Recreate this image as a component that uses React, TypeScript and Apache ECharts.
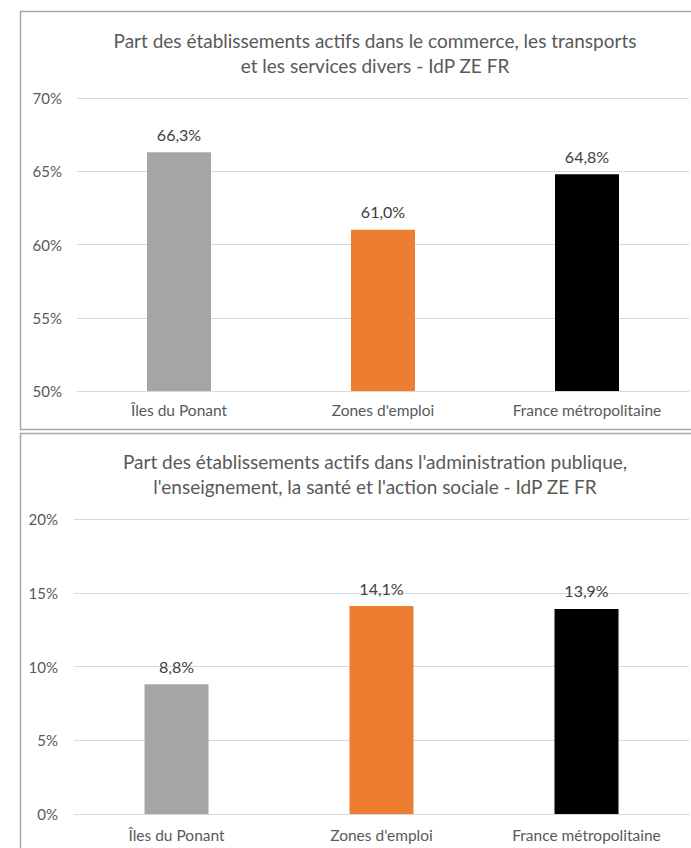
import React, { useEffect, useRef } from "react";
import * as echarts from "echarts";

const categories = ["Îles du Ponant", "Zones d'emploi", "France métropolitaine"];
const barColors = ["#a5a5a5", "#ed7d31", "#000000"];

const title1 = "Part des établissements actifs dans le commerce, les transports\net les services divers - IdP ZE FR";
const values1 = [66.3, 61.0, 64.8];
const yMin1 = 50;
const yMax1 = 70;

const title2 = "Part des établissements actifs dans l'administration publique,\nl'enseignement, la santé et l'action sociale - IdP ZE FR";
const values2 = [8.8, 14.1, 13.9];
const yMin2 = 0;
const yMax2 = 20;

const yInterval = 5;

const FONT = "Lato, sans-serif";

const fmtPct = (v: number) => v.toFixed(1).replace(".", ",") + "%";

export default function App() {
  const ref = useRef<HTMLDivElement>(null);
  useEffect(() => {
    if (!ref.current) return;
    const chart = echarts.init(ref.current, undefined, { renderer: "svg" });
    const mkData = (vals: number[]) =>
      vals.map((v, i) => ({ value: v, itemStyle: { color: barColors[i] } }));
    const xAxisCommon = {
      type: "category" as const,
      data: categories,
      axisTick: { show: false },
      axisLine: { lineStyle: { color: "#d9d9d9", width: 1 } },
      axisLabel: { color: "#595959", fontSize: 15.5, fontFamily: FONT },
    };
    const yAxisCommon = {
      type: "value" as const,
      interval: yInterval,
      axisLine: { show: false },
      axisTick: { show: false },
      splitLine: { lineStyle: { color: "#d9d9d9", width: 1 } },
      axisLabel: {
        color: "#595959",
        fontSize: 15,
        fontFamily: FONT,
        formatter: (v: number) => v + "%",
      },
    };
    const titleStyle = {
      color: "#595959",
      fontSize: 19,
      fontWeight: "normal" as const,
      fontFamily: FONT,
      lineHeight: 25,
    };
    const labelStyle = {
      show: true,
      position: "top" as const,
      distance: 10,
      color: "#404040",
      fontSize: 16,
      fontFamily: FONT,
      formatter: (p: any) => fmtPct(p.value),
    };
    chart.setOption({
      animation: false,
      backgroundColor: "#ffffff",
      title: [
        { text: title1, left: 370, textAlign: "center", top: 23, textStyle: titleStyle },
        { text: title2, left: 370, textAlign: "center", top: 444, textStyle: titleStyle },
      ],
      graphic: [
        {
          type: "rect",
          shape: { x: 20.5, y: 11.5, width: 700, height: 418 },
          style: { fill: "none", stroke: "#a6a6a6", lineWidth: 1.5 },
          silent: true,
        },
        {
          type: "rect",
          shape: { x: 20.5, y: 433.5, width: 700, height: 430 },
          style: { fill: "none", stroke: "#a6a6a6", lineWidth: 1.5 },
          silent: true,
        },
      ],
      grid: [
        { left: 77, width: 612, top: 98, height: 293 },
        { left: 74, width: 615, top: 519, height: 295 },
      ],
      xAxis: [
        { ...xAxisCommon, gridIndex: 0, axisLabel: { ...xAxisCommon.axisLabel, margin: 11 } },
        { ...xAxisCommon, gridIndex: 1, axisLabel: { ...xAxisCommon.axisLabel, margin: 13 } },
      ],
      yAxis: [
        { ...yAxisCommon, gridIndex: 0, min: yMin1, max: yMax1, axisLabel: { ...yAxisCommon.axisLabel, margin: 15 } },
        { ...yAxisCommon, gridIndex: 1, min: yMin2, max: yMax2, axisLabel: { ...yAxisCommon.axisLabel, margin: 16 } },
      ],
      series: [
        { type: "bar", xAxisIndex: 0, yAxisIndex: 0, data: mkData(values1), barWidth: 64, label: labelStyle },
        { type: "bar", xAxisIndex: 1, yAxisIndex: 1, data: mkData(values2), barWidth: 64, label: labelStyle },
      ],
    });
    return () => chart.dispose();
  }, []);
  return (
    <div
      ref={ref}
      style={{ position: "fixed", left: 0, top: 0, width: 691, height: 848, background: "#fff" }}
    />
  );
}
